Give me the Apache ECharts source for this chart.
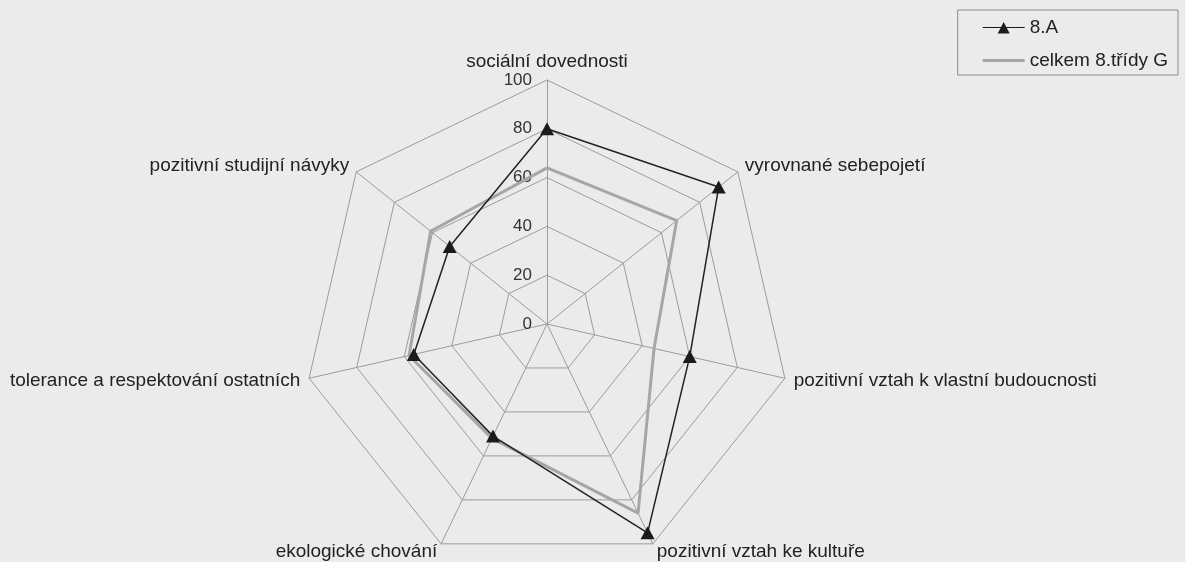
<!DOCTYPE html>
<html>
<head>
<meta charset="utf-8">
<script src="https://cdn.jsdelivr.net/npm/echarts@6/dist/echarts.min.js"></script>
<style>
  html, body { margin: 0; padding: 0; background: #ebebeb; }
  #chart { width: 1185px; height: 562px; }
</style>
</head>
<body>
<div id="chart"></div>
<script>
// axes in ECharts order (counterclockwise from the top)
var categories = [
  'sociální dovednosti',
  'pozitivní studijní návyky',
  'tolerance a respektování ostatních',
  'ekologické chování',
  'pozitivní vztah ke kultuře',
  'pozitivní vztah k vlastní budoucnosti',
  'vyrovnané sebepojetí'
];
var classA = [80, 51, 56, 51, 95, 60, 90];
var allClasses = [64, 61, 58, 52, 86, 45, 68];
var seriesNames = ['8.A', 'celkem 8.třídy G'];

var font = 'Liberation Sans, Arial, sans-serif';
var gridColor = '#9c9c9c';

var chart = echarts.init(document.getElementById('chart'));

var indicators = categories.map(function (name, i) {
  var ind = { name: name, min: 0, max: 100 };
  if (i === 0) {
    // value labels only on the first axis
    ind.axisLabel = {
      show: true, color: '#333', fontSize: 17, fontFamily: font, margin: 15
    };
  }
  return ind;
});

chart.setOption({
  backgroundColor: '#ebebeb',
  animation: false,
  legend: {
    orient: 'vertical',
    right: 7,
    top: 10,
    padding: [8, 10, 5, 25],
    itemGap: 14,
    itemWidth: 42,
    itemHeight: 12,
    borderColor: '#8a8a8a',
    borderWidth: 1,
    textStyle: { fontSize: 19, fontFamily: font, color: '#222' },
    data: [
      { name: seriesNames[0], icon: 'path://M0,0M0,5.4H42V6.6H0ZM21,0.5L27,12H15ZM42,12' },
      { name: seriesNames[1], icon: 'path://M0,0M0,4.6H42V7.4H0ZM42,12' }
    ]
  },
  radar: {
    center: [547, 324],
    radius: 244,
    startAngle: 90,
    splitNumber: 5,
    shape: 'polygon',
    nameGap: 9,
    axisName: { color: '#222', fontSize: 19, fontFamily: font },
    axisLine: { lineStyle: { color: gridColor, width: 1 } },
    splitLine: { lineStyle: { color: gridColor, width: 1 } },
    splitArea: { show: false },
    axisTick: { show: false },
    axisLabel: { show: false },
    indicator: indicators
  },
  series: [{
    type: 'radar',
    data: [
      {
        name: seriesNames[1],
        value: allClasses,
        symbol: 'none',
        lineStyle: { color: '#a6a6a6', width: 3 },
        itemStyle: { color: '#a6a6a6' }
      },
      {
        name: seriesNames[0],
        value: classA,
        symbol: 'triangle',
        symbolSize: [14, 13],
        lineStyle: { color: '#222', width: 1.5 },
        itemStyle: { color: '#1e1a1a' }
      }
    ]
  }]
});
</script>
</body>
</html>
